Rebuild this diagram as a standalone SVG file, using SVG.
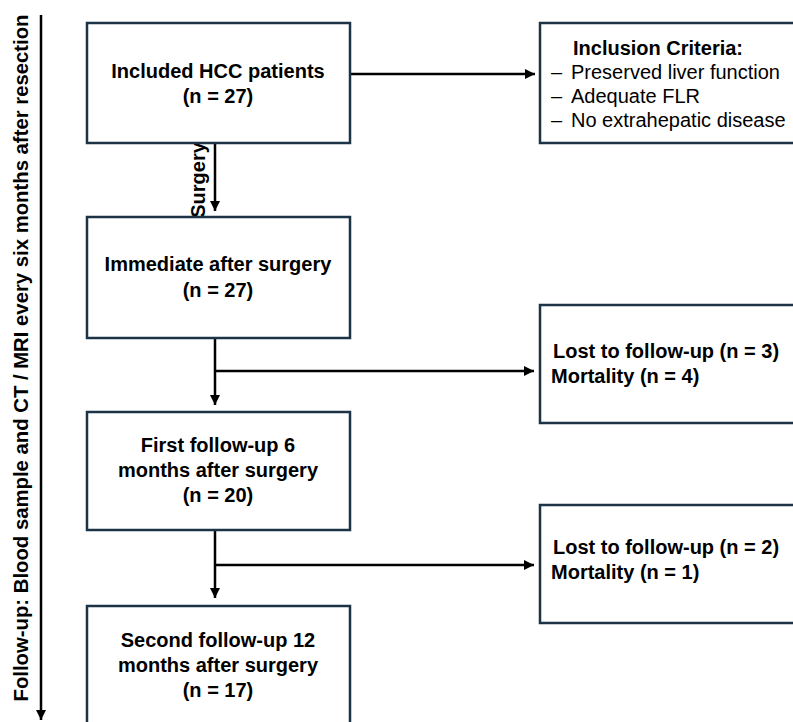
<svg xmlns="http://www.w3.org/2000/svg" width="793" height="722" viewBox="0 0 793 722">
<style>
.box{fill:#fff;stroke:#1b3344;stroke-width:2.5}
.t{font-family:"Liberation Sans",Arial,sans-serif;font-weight:bold;font-size:20px;fill:#000}
.r{font-family:"Liberation Sans",Arial,sans-serif;font-size:20px;fill:#000}
.ln{stroke:#000;stroke-width:2.5;fill:none}
</style>
<defs>
<marker id="ah" viewBox="0 0 10 10" refX="10" refY="5" markerWidth="4" markerHeight="4" markerUnits="strokeWidth" orient="auto">
<path d="M0,0 L10,5 L0,10 z" fill="#000"/>
</marker>
</defs>
<rect width="793" height="722" fill="#fff"/>
<g id="axis">
<line class="ln" x1="41" y1="15" x2="41" y2="720" stroke-width="2" marker-end="url(#ah)"/>
<text class="t" transform="translate(28,358) rotate(-90)" text-anchor="middle" font-size="20" textLength="687" lengthAdjust="spacingAndGlyphs">Follow-up: Blood sample and CT / MRI every six months after resection</text>
</g>
<g id="connectors">
<line class="ln" x1="350" y1="74" x2="535" y2="74" marker-end="url(#ah)"/>
<line class="ln" x1="215" y1="143" x2="215" y2="211" marker-end="url(#ah)"/>
<text class="t" font-size="13" transform="translate(205,180) rotate(-90)" text-anchor="middle">Surgery</text>
<line class="ln" x1="215" y1="338" x2="215" y2="405" marker-end="url(#ah)"/>
<line class="ln" x1="215" y1="371" x2="534" y2="371" marker-end="url(#ah)"/>
<line class="ln" x1="215" y1="531" x2="215" y2="598" marker-end="url(#ah)"/>
<line class="ln" x1="215" y1="565" x2="534" y2="565" marker-end="url(#ah)"/>
</g>
<g id="n1">
<rect class="box" x="87" y="23" width="263" height="120"/>
<text class="t" x="218" y="78" text-anchor="middle">Included HCC patients</text>
<text class="t" x="218" y="103" text-anchor="middle">(n = 27)</text>
</g>
<g id="n2">
<rect class="box" x="540" y="23" width="262" height="120"/>
<text class="t" x="573" y="55">Inclusion Criteria:</text>
<text class="r" y="79"><tspan x="551">–</tspan><tspan x="571">Preserved liver function</tspan></text>
<text class="r" y="103"><tspan x="551">–</tspan><tspan x="571">Adequate FLR</tspan></text>
<text class="r" y="127"><tspan x="551">–</tspan><tspan x="571">No extrahepatic disease</tspan></text>
</g>
<g id="n3">
<rect class="box" x="87" y="217" width="263" height="121"/>
<text class="t" x="218" y="271" text-anchor="middle">Immediate after surgery</text>
<text class="t" x="218" y="297" text-anchor="middle">(n = 27)</text>
</g>
<g id="n4">
<rect class="box" x="540" y="305" width="262" height="118"/>
<text class="t" x="553" y="358">Lost to follow-up (n = 3)</text>
<text class="t" x="551" y="383">Mortality (n = 4)</text>
</g>
<g id="n5">
<rect class="box" x="87" y="412" width="263" height="118"/>
<text class="t" x="218" y="452" text-anchor="middle">First follow-up 6</text>
<text class="t" x="218" y="477" text-anchor="middle">months after surgery</text>
<text class="t" x="218" y="502" text-anchor="middle">(n = 20)</text>
</g>
<g id="n6">
<rect class="box" x="540" y="505" width="262" height="118"/>
<text class="t" x="553" y="554">Lost to follow-up (n = 2)</text>
<text class="t" x="551" y="579">Mortality (n = 1)</text>
</g>
<g id="n7">
<rect class="box" x="87" y="606" width="263" height="130"/>
<text class="t" x="218" y="647" text-anchor="middle">Second follow-up 12</text>
<text class="t" x="218" y="672" text-anchor="middle">months after surgery</text>
<text class="t" x="218" y="697" text-anchor="middle">(n = 17)</text>
</g>
</svg>
